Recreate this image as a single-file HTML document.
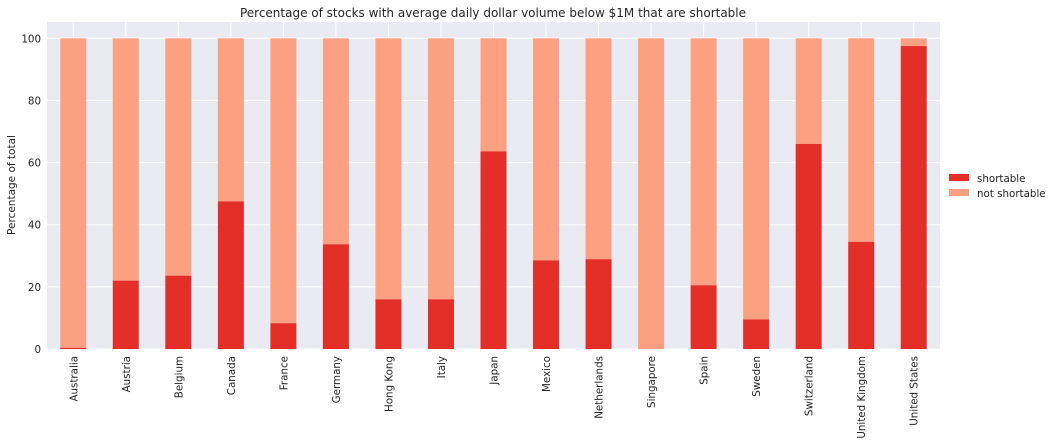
<!DOCTYPE html>
<html><head><style>body{margin:0;background:#fff}svg{display:block}text{font-family:"DejaVu Sans","Liberation Sans",sans-serif;fill:#262626}</style></head>
<body>
<svg width="1054" height="443" viewBox="0 0 1054 443" xmlns="http://www.w3.org/2000/svg">
<rect x="47" y="22" width="893" height="327" fill="#eaeaf2"/>
<g id="grid" stroke="#fff" stroke-width="1"></g>
<g id="bars"></g>
<g id="labels" font-size="10.3"></g>
<text x="493" y="17" font-size="12" text-anchor="middle">Percentage of stocks with average daily dollar volume below $1M that are shortable</text>
<text transform="translate(15,185) rotate(-90)" font-size="10.5" text-anchor="middle">Percentage of total</text>
<rect x="949" y="174" width="20" height="7" fill="#e32f27"/>
<text x="977" y="182" font-size="10.3">shortable</text>
<rect x="949" y="189" width="20" height="7" fill="#fca082"/>
<text x="977" y="197" font-size="10.3">not shortable</text>
<script>
const names=["Australia","Austria","Belgium","Canada","France","Germany","Hong Kong","Italy","Japan","Mexico","Netherlands","Singapore","Spain","Sweden","Switzerland","United Kingdom","United States"];
const vals=[0.4,22,23.6,47.5,8.3,33.7,16,16,63.6,28.5,28.9,0,20.5,9.5,66,34.5,97.5];
const ns="http://www.w3.org/2000/svg";
const Y=v=>349-v*3.107, X=i=>47+52.53*(i+0.5);
const g=document.getElementById('grid'),b=document.getElementById('bars'),l=document.getElementById('labels');
function el(p,t,a,txt){const e=document.createElementNS(ns,t);for(const k in a)e.setAttribute(k,a[k]);if(txt!=null)e.textContent=txt;p.appendChild(e);return e;}
for(let v=0;v<=100;v+=20){el(g,'line',{x1:47,x2:940,y1:Y(v),y2:Y(v)});el(l,'text',{x:41,y:Y(v)+4,'text-anchor':'end'},v);}
names.forEach((n,i)=>{const x=X(i);el(g,'line',{x1:x,x2:x,y1:22,y2:349});
el(b,'rect',{x:x-13,y:Y(100),width:26,height:Y(vals[i])-Y(100),fill:'#fca082'});
el(b,'rect',{x:x-13,y:Y(vals[i]),width:26,height:349-Y(vals[i]),fill:'#e32f27'});
el(l,'text',{transform:`translate(${x+4},356) rotate(-90)`,'text-anchor':'end'},n);});
</script>
</svg>
</body></html>
